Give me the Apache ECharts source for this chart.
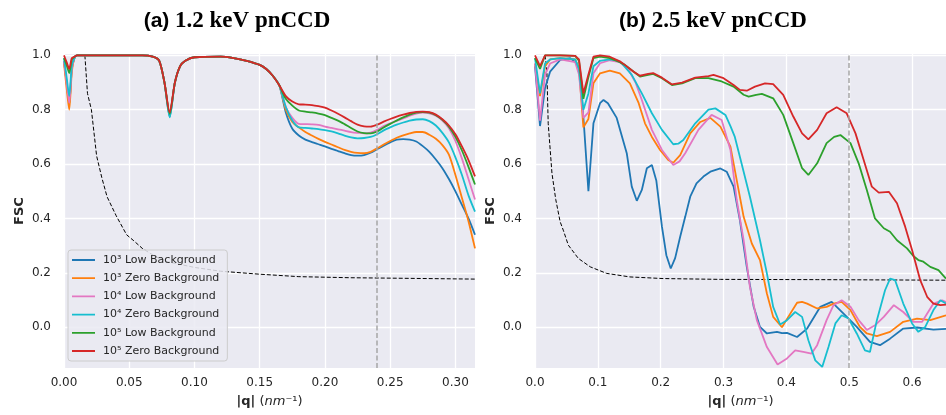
<!DOCTYPE html>
<html>
<head>
<meta charset="utf-8">
<script src="https://cdn.jsdelivr.net/npm/echarts@6/dist/echarts.min.js"></script>
<style>
html,body{margin:0;padding:0;background:#fff;}
#main{width:946px;height:415px;}
</style>
</head>
<body>
<div id="main"></div>
<script>
// series names and colours (same for both panels)
var names = ['10³ Low Background','10³ Zero Background','10⁴ Low Background',
             '10⁴ Zero Background','10⁵ Low Background','10⁵ Zero Background'];
var colors = ['#1f77b4','#ff7f0e','#e377c2','#17becf','#2ca02c','#d62728'];

// tick labels
var yTicks = [0, 0.2, 0.4, 0.6, 0.8, 1.0];
var leftXTicks = [0, 0.05, 0.10, 0.15, 0.20, 0.25, 0.30];
var rightXTicks = [0, 0.1, 0.2, 0.3, 0.4, 0.5, 0.6];

// (a) 1.2 keV : shared q grid
var leftQ = [0,0.002,0.004,0.006,0.008,0.01,0.02,0.04,0.06,0.068,0.073,0.077,0.081,0.085,0.089,0.093,
  0.1,0.12,0.13,0.14,0.15,0.155,0.16,0.165,0.17,0.175,0.18,0.185,0.19,0.195,0.2,0.205,0.21,0.215,
  0.22,0.225,0.23,0.235,0.24,0.245,0.25,0.255,0.26,0.265,0.27,0.275,0.28,0.285,0.29,0.295,0.3,
  0.305,0.31,0.315];
var leftBlue = [0.98,0.90,0.82,0.95,0.99,1.0,1.0,1.0,1.0,0.995,0.98,0.90,0.775,0.90,0.96,0.98,
  0.993,0.995,0.99,0.98,0.965,0.95,0.925,0.89,0.79,0.73,0.705,0.69,0.681,0.673,0.665,0.656,0.648,
  0.64,0.633,0.631,0.633,0.642,0.655,0.668,0.68,0.69,0.692,0.69,0.683,0.666,0.645,0.617,0.585,
  0.545,0.5,0.45,0.4,0.34];
var leftOrange = [0.97,0.88,0.80,0.94,0.99,1.0,1.0,1.0,1.0,0.995,0.98,0.90,0.78,0.90,0.96,0.98,
  0.993,0.995,0.99,0.98,0.965,0.95,0.925,0.89,0.80,0.755,0.735,0.718,0.705,0.693,0.682,0.672,0.662,
  0.652,0.645,0.641,0.64,0.645,0.658,0.672,0.685,0.697,0.706,0.713,0.718,0.718,0.708,0.693,0.67,
  0.635,0.56,0.475,0.39,0.29];
var leftPink = [0.98,0.90,0.825,0.95,0.99,1.0,1.0,1.0,1.0,0.995,0.98,0.90,0.78,0.90,0.96,0.98,
  0.993,0.995,0.99,0.98,0.965,0.95,0.925,0.89,0.81,0.77,0.748,0.747,0.746,0.744,0.738,0.733,0.728,
  0.723,0.718,0.715,0.713,0.716,0.726,0.74,0.75,0.76,0.768,0.778,0.786,0.789,0.787,0.778,0.76,
  0.732,0.685,0.62,0.545,0.47];
var leftCyan = [0.99,0.92,0.85,0.96,0.99,1.0,1.0,1.0,1.0,0.995,0.98,0.90,0.772,0.90,0.96,0.98,
  0.993,0.995,0.99,0.98,0.965,0.95,0.925,0.89,0.81,0.76,0.735,0.733,0.731,0.729,0.725,0.72,0.713,
  0.705,0.698,0.695,0.696,0.70,0.71,0.724,0.735,0.745,0.753,0.76,0.764,0.765,0.758,0.742,0.715,
  0.68,0.625,0.56,0.485,0.425];
var leftGreen = [0.99,0.965,0.935,0.985,0.995,1.0,1.0,1.0,1.0,0.995,0.98,0.90,0.785,0.90,0.96,0.98,
  0.993,0.995,0.99,0.98,0.965,0.95,0.925,0.89,0.84,0.815,0.797,0.793,0.79,0.786,0.78,0.77,0.76,
  0.747,0.733,0.72,0.714,0.713,0.72,0.735,0.748,0.76,0.772,0.782,0.789,0.791,0.789,0.78,0.763,
  0.738,0.70,0.65,0.59,0.525];
var leftRed = [1.0,0.975,0.95,0.99,0.995,1.0,1.0,1.0,1.0,0.995,0.98,0.90,0.79,0.90,0.96,0.98,
  0.993,0.995,0.99,0.98,0.965,0.95,0.925,0.89,0.85,0.83,0.82,0.819,0.817,0.813,0.808,0.797,0.785,
  0.772,0.758,0.745,0.739,0.738,0.745,0.756,0.766,0.775,0.782,0.788,0.792,0.793,0.791,0.782,0.765,
  0.742,0.71,0.665,0.615,0.555];
var leftThrQ = [0.016,0.018,0.021,0.025,0.029,0.033,0.04,0.048,0.053,0.06,0.07,0.08,0.1,0.12,0.15,0.18,0.22,0.26,0.315];
var leftThr = [1.0,0.86,0.80,0.63,0.55,0.48,0.41,0.34,0.32,0.29,0.26,0.24,0.22,0.206,0.195,0.186,0.182,0.18,0.177];
var leftCut = 0.2423;

// (b) 2.5 keV : [q, fsc] points
var rightBlue = [[0,0.96],[0.008,0.74],[0.016,0.88],[0.024,0.94],[0.04,0.983],[0.056,0.99],[0.066,0.971],
  [0.072,0.92],[0.078,0.74],[0.085,0.50],[0.093,0.75],[0.1035,0.824],[0.109,0.836],[0.116,0.824],
  [0.13,0.77],[0.146,0.64],[0.154,0.517],[0.162,0.465],[0.17,0.505],[0.178,0.585],[0.186,0.597],
  [0.193,0.54],[0.202,0.37],[0.209,0.265],[0.216,0.216],[0.223,0.254],[0.231,0.333],[0.239,0.406],
  [0.247,0.48],[0.257,0.529],[0.268,0.554],[0.279,0.572],[0.295,0.584],[0.305,0.572],[0.316,0.517],
  [0.326,0.394],[0.337,0.222],[0.348,0.075],[0.358,0.001],[0.369,-0.023],[0.377,-0.02],[0.385,-0.017],
  [0.393,-0.022],[0.401,-0.021],[0.417,-0.036],[0.433,-0.005],[0.454,0.075],[0.472,0.093],[0.491,0.05],
  [0.512,0.001],[0.533,-0.054],[0.549,-0.066],[0.565,-0.042],[0.586,-0.005],[0.608,-0.001],
  [0.634,-0.009],[0.654,-0.006]];
var rightOrange = [[0,0.97],[0.008,0.85],[0.016,0.96],[0.024,0.985],[0.04,0.99],[0.064,0.985],[0.07,0.95],
  [0.077,0.735],[0.085,0.766],[0.093,0.897],[0.1035,0.934],[0.119,0.944],[0.135,0.934],[0.151,0.897],
  [0.165,0.824],[0.175,0.75],[0.186,0.70],[0.199,0.652],[0.212,0.615],[0.22,0.605],[0.231,0.633],
  [0.247,0.713],[0.263,0.755],[0.279,0.77],[0.295,0.738],[0.311,0.664],[0.321,0.541],[0.332,0.406],
  [0.345,0.308],[0.358,0.247],[0.369,0.124],[0.379,0.038],[0.393,0.0],[0.403,0.038],[0.417,0.09],
  [0.425,0.093],[0.433,0.087],[0.449,0.069],[0.464,0.075],[0.475,0.087],[0.488,0.093],[0.502,0.063],
  [0.517,0.001],[0.528,-0.023],[0.544,-0.033],[0.565,-0.017],[0.586,0.02],[0.608,0.032],[0.629,0.026],
  [0.654,0.044]];
var rightPink = [[0,0.97],[0.008,0.76],[0.016,0.93],[0.024,0.97],[0.04,0.985],[0.064,0.975],[0.07,0.93],
  [0.077,0.77],[0.085,0.79],[0.093,0.934],[0.1035,0.971],[0.119,0.982],[0.135,0.975],[0.149,0.947],
  [0.16,0.9],[0.17,0.836],[0.186,0.726],[0.202,0.652],[0.22,0.597],[0.23,0.61],[0.239,0.64],[0.26,0.726],
  [0.281,0.781],[0.297,0.762],[0.311,0.652],[0.321,0.468],[0.332,0.32],[0.342,0.148],[0.353,0.026],
  [0.369,-0.073],[0.386,-0.137],[0.401,-0.115],[0.414,-0.085],[0.427,-0.091],[0.44,-0.097],[0.449,-0.066],
  [0.464,0.026],[0.475,0.081],[0.488,0.099],[0.502,0.075],[0.515,0.026],[0.528,-0.01],[0.541,0.007],
  [0.555,0.038],[0.571,0.081],[0.586,0.056],[0.602,0.02],[0.616,0.02],[0.634,0.087],[0.648,0.099],
  [0.654,0.093]];
var rightCyan = [[0,0.99],[0.008,0.86],[0.016,0.97],[0.024,0.985],[0.04,0.99],[0.064,0.985],[0.07,0.95],
  [0.077,0.80],[0.085,0.86],[0.093,0.96],[0.1035,0.98],[0.119,0.985],[0.13,0.982],[0.138,0.971],
  [0.154,0.928],[0.17,0.86],[0.186,0.787],[0.202,0.726],[0.22,0.673],[0.228,0.675],[0.236,0.689],
  [0.255,0.75],[0.276,0.80],[0.287,0.805],[0.303,0.781],[0.311,0.74],[0.318,0.70],[0.326,0.627],
  [0.342,0.48],[0.358,0.32],[0.369,0.198],[0.379,0.075],[0.39,0.01],[0.401,0.026],[0.414,0.056],
  [0.425,0.038],[0.435,-0.048],[0.446,-0.122],[0.457,-0.146],[0.467,-0.073],[0.478,0.014],[0.488,0.044],
  [0.499,0.032],[0.512,-0.023],[0.525,-0.085],[0.533,-0.091],[0.544,0.026],[0.557,0.136],[0.565,0.179],
  [0.573,0.173],[0.586,0.087],[0.6,0.014],[0.61,-0.017],[0.621,0.001],[0.634,0.063],[0.645,0.099],
  [0.654,0.087]];
var rightGreen = [[0,0.99],[0.008,0.95],[0.016,1.0],[0.04,1.0],[0.064,0.998],[0.07,0.98],[0.077,0.84],
  [0.085,0.92],[0.093,0.99],[0.1035,0.995],[0.119,0.99],[0.135,0.975],[0.143,0.965],[0.157,0.94],
  [0.167,0.922],[0.18,0.928],[0.188,0.932],[0.202,0.916],[0.218,0.891],[0.234,0.897],[0.255,0.916],
  [0.276,0.916],[0.297,0.904],[0.316,0.885],[0.332,0.855],[0.34,0.848],[0.352,0.855],[0.361,0.858],
  [0.37,0.85],[0.379,0.842],[0.395,0.781],[0.411,0.677],[0.425,0.585],[0.435,0.56],[0.449,0.603],
  [0.464,0.677],[0.476,0.70],[0.486,0.707],[0.502,0.677],[0.515,0.603],[0.528,0.505],[0.541,0.40],
  [0.555,0.364],[0.565,0.351],[0.576,0.32],[0.592,0.29],[0.602,0.262],[0.61,0.247],[0.618,0.241],
  [0.629,0.222],[0.642,0.21],[0.654,0.179]];
var rightRed = [[0,1.0],[0.008,0.96],[0.016,1.0],[0.04,1.0],[0.064,0.998],[0.07,0.985],[0.077,0.86],
  [0.085,0.93],[0.093,0.995],[0.1035,1.0],[0.119,0.995],[0.135,0.978],[0.143,0.965],[0.157,0.94],
  [0.167,0.925],[0.18,0.932],[0.188,0.935],[0.202,0.918],[0.218,0.893],[0.234,0.9],[0.255,0.918],
  [0.276,0.924],[0.284,0.928],[0.30,0.916],[0.316,0.891],[0.326,0.873],[0.337,0.87],[0.35,0.885],
  [0.366,0.897],[0.379,0.894],[0.395,0.855],[0.411,0.775],[0.425,0.713],[0.435,0.691],[0.449,0.726],
  [0.464,0.787],[0.48,0.809],[0.496,0.787],[0.51,0.713],[0.523,0.615],[0.536,0.517],[0.547,0.495],
  [0.563,0.498],[0.576,0.456],[0.589,0.37],[0.60,0.284],[0.613,0.173],[0.624,0.112],[0.634,0.087],
  [0.645,0.081],[0.654,0.083]];
var rightThr = [[0.016,1.0],[0.019,0.934],[0.021,0.75],[0.027,0.566],[0.033,0.47],[0.04,0.388],[0.045,0.357],
  [0.053,0.302],[0.069,0.253],[0.088,0.222],[0.114,0.198],[0.151,0.185],[0.204,0.179],[0.295,0.176],
  [0.45,0.175],[0.654,0.173]];
var rightCut = 0.503;

var textColor = '#262626';
// thin bar in a 23x12 box, used as legend icon (no marker)
var lineIcon = 'path://M0,0L0.01,0M0,5.1L23,5.1L23,6.9L0,6.9ZM0,12L0.01,12';

function xAxisFor(grid, max, ticks, digits){
    return {
        type:'value', gridIndex:grid, min:0, max:max,
        axisLine:{show:false},
        axisTick:{show:false, customValues:ticks},
        axisLabel:{customValues:ticks, color:textColor, fontSize:12, margin:9,
            fontFamily:'DejaVu Sans',
            formatter:function(v){ return v.toFixed(digits); }},
        splitLine:{show:true, lineStyle:{color:'#ffffff', width:1.3}},
        name:'{b||q|} {n|(}{i|nm}{n|⁻¹)}',
        nameLocation:'middle', nameGap:27,
        nameTextStyle:{color:textColor, fontSize:13, fontFamily:'DejaVu Sans',
            rich:{b:{fontWeight:'bold', fontSize:13, color:textColor},
                  i:{fontStyle:'italic', fontSize:13, color:textColor},
                  n:{fontSize:13, color:textColor}}}
    };
}

function yAxisFor(grid){
    return {
        type:'value', gridIndex:grid, min:-0.15, max:1.005,
        axisLine:{show:false},
        axisTick:{show:false, customValues:yTicks},
        axisLabel:{customValues:yTicks, color:textColor, fontSize:12, margin:13,
            fontFamily:'DejaVu Sans',
            formatter:function(v){ return v.toFixed(1); }},
        splitLine:{show:true, lineStyle:{color:'#ffffff', width:1.3}},
        name:'FSC', nameLocation:'middle', nameGap:38,
        nameTextStyle:{color:textColor, fontSize:13, fontWeight:'bold', fontFamily:'DejaVu Sans'}
    };
}

function curve(name, color, grid, data){
    return {
        name:name, type:'line', xAxisIndex:grid, yAxisIndex:grid,
        data:data, symbol:'none', smooth:grid === 0 ? 0.25 : false,
        lineStyle:{color:color, width:1.8}, itemStyle:{color:color}
    };
}

function threshold(grid, data, cut){
    return {
        name:'threshold', type:'line', xAxisIndex:grid, yAxisIndex:grid,
        data:data, symbol:'none', z:1,
        lineStyle:{color:'#000000', width:1, type:[4,2]},
        markLine:{silent:true, symbol:'none', label:{show:false},
            lineStyle:{color:'#a6a6a6', width:1.5, type:[5,2.5]},
            data:[{xAxis:cut}]}
    };
}

var leftSets = [leftBlue, leftOrange, leftPink, leftCyan, leftGreen, leftRed];
var rightSets = [rightBlue, rightOrange, rightPink, rightCyan, rightGreen, rightRed];

var series = [];
series.push(threshold(0, leftThrQ.map(function(q,i){ return [q, leftThr[i]]; }), leftCut));
series.push(threshold(1, rightThr, rightCut));
for (var k = 0; k < names.length; k++){
    var arr = leftSets[k];
    series.push(curve(names[k], colors[k], 0, leftQ.map(function(q,i){ return [q, arr[i]]; })));
}
for (var k = 0; k < names.length; k++){
    series.push(curve(names[k], colors[k], 1, rightSets[k]));
}

var myChart = echarts.init(document.getElementById('main'));
var option = {
    animation:false,
    backgroundColor:'#ffffff',
    grid:[
        {left:64, top:54, width:411, height:314, show:true, backgroundColor:'#eaeaf2', borderWidth:0},
        {left:535, top:54, width:411, height:314, show:true, backgroundColor:'#eaeaf2', borderWidth:0}
    ],
    xAxis:[xAxisFor(0, 0.315, leftXTicks, 2), xAxisFor(1, 0.654, rightXTicks, 1)],
    yAxis:[yAxisFor(0), yAxisFor(1)],
    legend:{
        data:names, orient:'vertical', left:68, top:250,
        icon:lineIcon,
        itemWidth:23, itemHeight:12, itemGap:6.2,
        padding:[4,8,4,4],
        backgroundColor:'rgba(234,234,242,0.85)', borderColor:'#cccccc', borderWidth:1, borderRadius:3,
        textStyle:{color:textColor, fontSize:11, fontFamily:'DejaVu Sans', lineHeight:12, padding:[0,0,0,3]}
    },
    graphic:[
        {type:'text', x:237, y:21, style:{text:'{s|(a)} 1.2 keV pnCCD', align:'center', verticalAlign:'middle',
            font:'bold 23px "Liberation Serif"', fill:'#000',
            rich:{s:{fontFamily:'Liberation Sans', fontWeight:'bold', fontSize:21, fill:'#000'}}}},
        {type:'text', x:713, y:21, style:{text:'{s|(b)} 2.5 keV pnCCD', align:'center', verticalAlign:'middle',
            font:'bold 23px "Liberation Serif"', fill:'#000',
            rich:{s:{fontFamily:'Liberation Sans', fontWeight:'bold', fontSize:21, fill:'#000'}}}}
    ],
    series:series
};
myChart.setOption(option);
</script>
</body>
</html>
